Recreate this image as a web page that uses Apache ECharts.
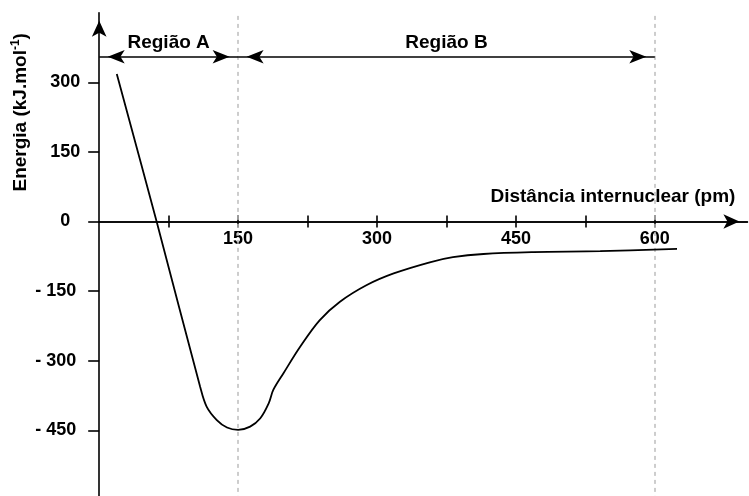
<!DOCTYPE html>
<html><head><meta charset="utf-8">
<script src="https://cdn.jsdelivr.net/npm/echarts@6/dist/echarts.min.js"></script>
<style>html,body{margin:0;padding:0;background:#fff}#c{width:749px;height:496px}</style>
</head><body><div id="c"></div>
<script>
// Data
const distance = [19, 62, 109, 116, 127, 138, 150, 163, 174, 183, 188, 199, 217, 238, 260, 289, 318, 357, 382, 415, 469, 541, 624];
const energy   = [318, 0, -356, -399, -428, -444, -449, -442, -424, -392, -363, -327, -270, -213, -173, -137, -112, -88, -77, -70, -66, -64, -59];
const xTickValues = [75, 150, 225, 300, 375, 450, 525, 600];
const xLabelValues = [150, 300, 450, 600];
const yTickValues = [-450, -300, -150, 0, 150, 300];
const regionNames = ['Região A', 'Região B'];
const regionStarts = [0, 150];
const regionEnds = [150, 600];
const regionLevel = 355;
const guideLines = [150, 600];
const xName = 'Distância internuclear (pm)';
const yNameParts = ['Energia (kJ.mol', '-1', ')'];

const FONT = 'Liberation Sans, Arial, sans-serif';
const W = 749, H = 496;
const GRID = {left: 99.2, right: 1.6, top: 12.7, bottom: -3.9};
const Y_MIN = -600, Y_MAX = 450, X_MIN = 0, X_MAX = 700;
const chart = echarts.init(document.getElementById('c'), null, {renderer: 'canvas'});

// x labels are laid out from the grid's bottom edge; bring them up under the zero line
const gridH = H - GRID.top - GRID.bottom;
const zeroFromBottom = gridH * (0 - Y_MIN) / (Y_MAX - Y_MIN);
const xLabelMargin = 9 - zeroFromBottom;

const axisLineStyle = {color: '#000', width: 1.6};

const option = {
  animation: false,
  grid: Object.assign({outerBoundsMode: 'none', containLabel: false}, GRID),
  xAxis: [
    {
      type: 'value', min: X_MIN, max: X_MAX, position: 'bottom',
      name: xName,
      nameLocation: 'end',
      nameGap: -12,
      nameMoveOverlap: false,
      nameTextStyle: {fontFamily: FONT, fontWeight: 'bold', fontSize: 19, color: '#000',
        align: 'right', verticalAlign: 'bottom', padding: [0, 0, 15, 0]},
      axisLine: {onZero: true, onZeroAxisIndex: 0, lineStyle: axisLineStyle, symbol: ['none', 'arrow'], symbolSize: [11, 16], symbolOffset: [0, -8]},
      axisTick: {show: true, inside: false, length: 6, lineStyle: axisLineStyle, customValues: xTickValues},
      axisLabel: {show: true, margin: xLabelMargin, fontFamily: FONT, fontWeight: 'bold', fontSize: 18, color: '#000',
        customValues: xLabelValues, hideOverlap: false},
      splitLine: {show: false}
    },
    {
      type: 'value', min: X_MIN, max: X_MAX, position: 'bottom',
      axisLine: {onZero: true, onZeroAxisIndex: 1, lineStyle: axisLineStyle},
      axisTick: {show: true, inside: true, length: 6, lineStyle: axisLineStyle, customValues: xTickValues},
      axisLabel: {show: false},
      splitLine: {show: false}
    }
  ],
  yAxis: [
    {
      type: 'value', min: Y_MIN, max: Y_MAX, position: 'left',
      name: '{a|' + yNameParts[0] + '}{s|' + yNameParts[1] + '}{a|' + yNameParts[2] + '}',
      nameLocation: 'middle',
      nameGap: 66,
      nameMoveOverlap: false,
      nameTextStyle: {
        fontFamily: FONT, fontWeight: 'bold', fontSize: 19, color: '#000',
        padding: [0, 0, 0, 288],
        rich: {
          a: {fontFamily: FONT, fontWeight: 'bold', fontSize: 19, color: '#000', lineHeight: 24},
          s: {fontFamily: FONT, fontWeight: 'bold', fontSize: 12, color: '#000', lineHeight: 24, verticalAlign: 'top', padding: [0, 0, 8, 0]}
        }
      },
      axisLine: {onZero: true, lineStyle: axisLineStyle, symbol: ['none', 'arrow'], symbolSize: [11, 16], symbolOffset: [0, -8]},
      axisTick: {show: true, inside: false, length: 11, lineStyle: axisLineStyle, customValues: yTickValues},
      axisLabel: {
        show: true, margin: 19, fontFamily: FONT, fontWeight: 'bold', fontSize: 18, color: '#000',
        customValues: yTickValues,
        formatter: function (v) {
          if (v < 0) return '{n|- ' + Math.abs(v) + '}';
          if (v === 0) return '{z|0}';
          return '{p|' + v + '}';
        },
        rich: {
          p: {fontFamily: FONT, fontWeight: 'bold', fontSize: 18, color: '#000'},
          n: {fontFamily: FONT, fontWeight: 'bold', fontSize: 18, color: '#000', padding: [0, 4, 0, 0]},
          z: {fontFamily: FONT, fontWeight: 'bold', fontSize: 18, color: '#000', padding: [0, 10, 0, 0]}
        }
      },
      splitLine: {show: false}
    },
    {
      type: 'value', min: Y_MIN, max: Y_MAX, position: 'left', show: false,
      axisLine: {onZero: false}, splitLine: {show: false}
    }
  ],
  series: [
    {
      type: 'line',
      data: [],
      markLine: {
        silent: true, symbol: ['none', 'none'],
        label: {show: false},
        lineStyle: {color: '#bdbdbd', type: [4, 4], width: 1.5},
        data: guideLines.map(v => ({xAxis: v}))
      }
    },
    {
      type: 'line',
      data: distance.map((d, i) => [d, energy[i]]),
      showSymbol: false,
      smooth: 0.35,
      lineStyle: {color: '#000', width: 1.8},
      z: 5
    },
    {
      type: 'line',
      data: [],
      markLine: {
        silent: true,
        symbol: ['arrow', 'arrow'],
        symbolSize: [10, 17],
        symbolOffset: [[0, 8.5], [0, 8.5]],
        lineStyle: {color: '#000', type: 'solid', width: 1.6},
        label: {show: true, position: 'insideMiddleTop', distance: 5,
          fontFamily: FONT, fontWeight: 'bold', fontSize: 19, color: '#000'},
        data: regionNames.map((n, i) => [
          {coord: [regionStarts[i], regionLevel], name: n, label: {formatter: n}},
          {coord: [regionEnds[i], regionLevel]}
        ])
      }
    }
  ]
};
chart.setOption(option);
</script>
</body></html>
